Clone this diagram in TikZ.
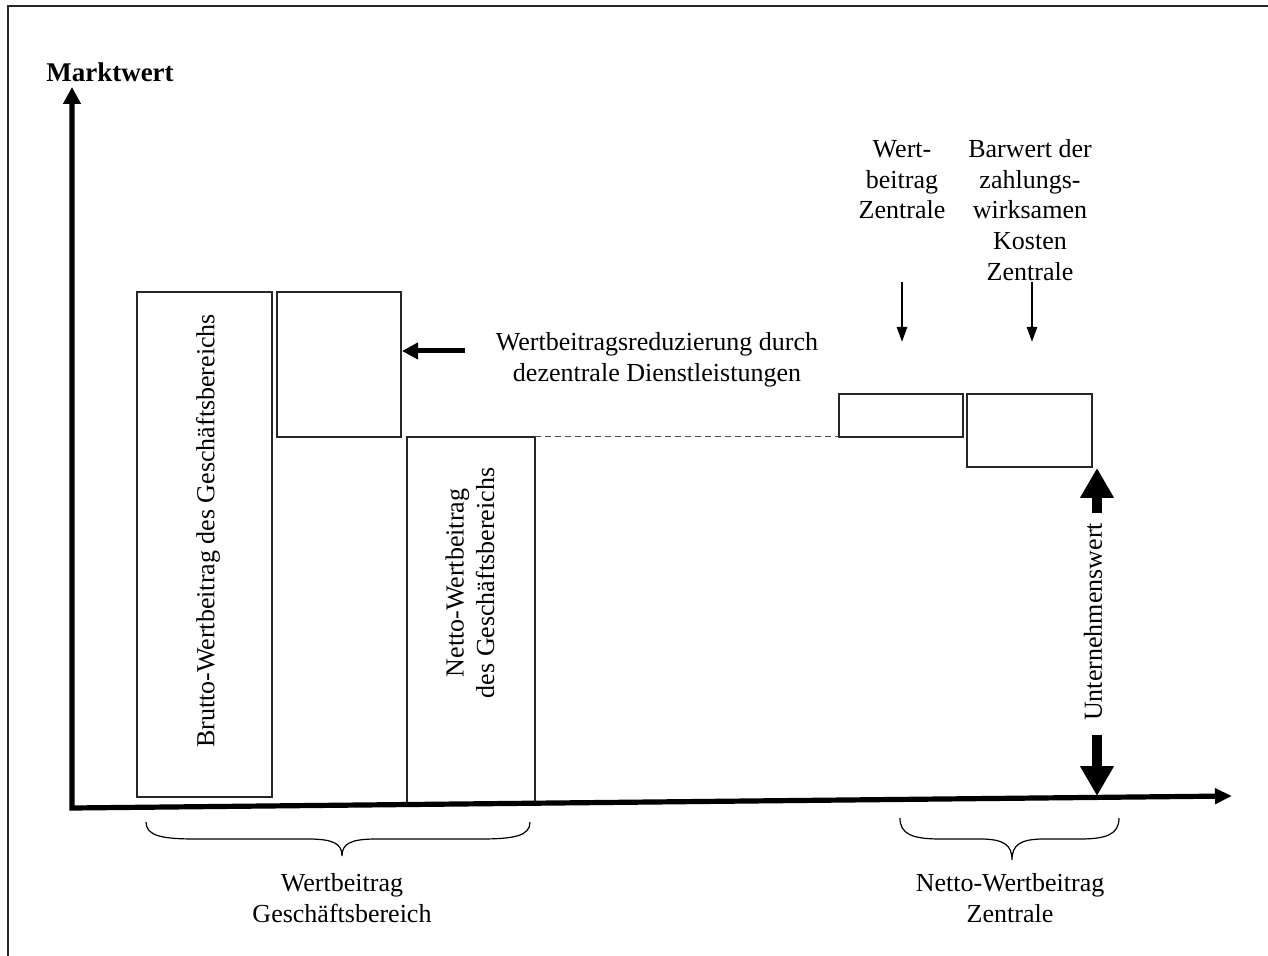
\documentclass[tikz,border=0pt]{standalone}
\usepackage{fontspec}
\setmainfont{Liberation Serif}
\usetikzlibrary{arrows.meta}
\begin{document}
\begin{tikzpicture}[x=0.5pt,y=-0.5pt,
  every node/.style={font=\fontsize{13}{15.3}\selectfont, inner sep=0pt, outer sep=0pt},
  bar/.style={draw=black!85, line width=0.75pt, anchor=north west},
  axisline/.style={line width=2.6pt, line join=miter,
    {Triangle[length=8.5pt,width=8.5pt]}-{Triangle[length=8.5pt,width=7.5pt]}},
  bigarrow/.style={line width=5pt, -{Triangle[length=15pt,width=16pt]}},
  midarrow/.style={line width=2.5pt, -{Triangle[length=8pt,width=8pt]}},
  thinarrow/.style={line width=1.2pt, -{Triangle[length=7.5pt,width=5pt]}},
  bracepath/.style={line width=0.6pt},
  guide/.style={draw=black!70, line width=0.5pt, dash pattern=on 3pt off 2pt},
  framestyle/.style={line width=1pt, black!85}
]
\useasboundingbox (0,0) rectangle (1268,956);

% outer frame (only top and left edges fall inside the page)
\coordinate (frTR) at (1268,6);
\coordinate (frTL) at (8,6);
\coordinate (frBL) at (8,956);
\draw[framestyle] (frTR) -- (frTL) -- (frBL);

% value bars
\node[bar, minimum width=67.5pt, minimum height=252.5pt] (brutto) at (137,292) {};
\node[bar, minimum width=62pt, minimum height=72.5pt] (reduz) at (277,292) {};
\node[bar, minimum width=64pt, minimum height=183pt] (netto) at (407,437) {};
\node[bar, minimum width=62pt, minimum height=21.5pt] (zentr) at (839,394) {};
\node[bar, minimum width=62.5pt, minimum height=36.5pt] (kosten) at (967,394) {};

\draw[guide] (netto.north east) -- (zentr.south west);

% labels inside bars
\node[rotate=90] (bruttoLbl) at (208,531) {Brutto-Wertbeitrag des Geschäftsbereichs};
\node[rotate=90, align=center] (nettoLbl) at (470,583) {Netto-Wertbeitrag\\des Geschäftsbereichs};

% axes
\coordinate (ytop) at (72,87);
\coordinate (origin) at (72,808);
\coordinate (xend) at (1232,796);
\draw[axisline] (ytop) -- (origin) -- (xend);
\node[font=\fontsize{13.5}{16}\selectfont\bfseries] (ylabel) at (110,72) {Marktwert};

% reduction arrow and its label
\node[align=center] (reduzLbl) at (657,360) {Wertbeitragsreduzierung durch\\dezentrale Dienstleistungen};
\coordinate (reduzStart) at (465,351);
\coordinate (reduzTip) at (402,351);
\draw[midarrow] (reduzStart) -- (reduzTip);

% labels above the head-office bars
\node[align=center] (zentrLbl) at (902,180) {Wert-\\beitrag\\Zentrale};
\node[align=center] (kostenLbl) at (1030,210) {Barwert der\\zahlungs-\\wirksamen\\Kosten\\Zentrale};
\coordinate (za) at (902,282);
\coordinate (zb) at (902,342);
\coordinate (ka) at (1032,282);
\coordinate (kb) at (1032,342);
\draw[thinarrow] (za) -- (zb);
\draw[thinarrow] (ka) -- (kb);

% company value
\coordinate (uwUpStart) at (1097,513);
\coordinate (uwUpTip) at (1097,468);
\coordinate (uwDnStart) at (1097,735);
\coordinate (uwDnTip) at (1097,796);
\draw[bigarrow] (uwUpStart) -- (uwUpTip);
\draw[bigarrow] (uwDnStart) -- (uwDnTip);
\node[rotate=90] (uwLbl) at (1093,622) {Unternehmenswert};

% braces under the axis
\coordinate (b1L) at (146,822);
\coordinate (b1M) at (342,856);
\coordinate (b1R) at (530,822);
\draw[bracepath] (b1L) .. controls (146,836) and (162,839) .. (196,839)
  -- (308,839) .. controls (334,839) and (342,844) .. (b1M)
  .. controls (342,844) and (350,839) .. (376,839)
  -- (480,839) .. controls (514,839) and (530,836) .. (b1R);
\node[align=center] (b1Lbl) at (342,898) {Wertbeitrag\\Geschäftsbereich};

\coordinate (b2L) at (900,818);
\coordinate (b2M) at (1012,860);
\coordinate (b2R) at (1119,818);
\draw[bracepath] (b2L) .. controls (900,834) and (912,839) .. (940,839)
  -- (980,839) .. controls (1004,839) and (1012,845) .. (b2M)
  .. controls (1012,845) and (1020,839) .. (1044,839)
  -- (1080,839) .. controls (1107,839) and (1119,834) .. (b2R);
\node[align=center] (b2Lbl) at (1010,898) {Netto-Wertbeitrag\\Zentrale};
\end{tikzpicture}
\end{document}
